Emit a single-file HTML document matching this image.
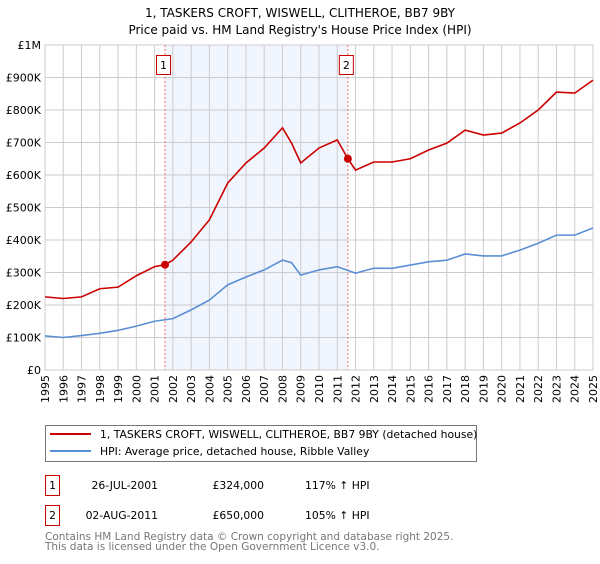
<!DOCTYPE html>
<html><head><meta charset="utf-8"><style>
body{margin:0;background:#fff;width:600px;height:560px;overflow:hidden;font-family:"DejaVu Sans","Liberation Sans",sans-serif}
</style></head><body>
<svg id="chart" width="600" height="560" xmlns="http://www.w3.org/2000/svg" font-family="DejaVu Sans, Liberation Sans, sans-serif">
<text x="300" y="17" text-anchor="middle" font-size="12" fill="#000">1, TASKERS CROFT, WISWELL, CLITHEROE, BB7 9BY</text>
<text x="300" y="34" text-anchor="middle" font-size="12" fill="#000">Price paid vs. HM Land Registry's House Price Index (HPI)</text>
<g id="plot"></g>
<g>
<rect x="45.5" y="425.5" width="431" height="36" fill="#fff" stroke="#777"/>
<line x1="50" y1="434" x2="91" y2="434" stroke="#cc0000" stroke-width="2"/>
<text x="100" y="438" font-size="10.8">1, TASKERS CROFT, WISWELL, CLITHEROE, BB7 9BY (detached house)</text>
<line x1="50" y1="451" x2="91" y2="451" stroke="#5b8fd4" stroke-width="2"/>
<text x="100" y="455" font-size="10.8">HPI: Average price, detached house, Ribble Valley</text>
</g>
<g font-size="10.8">
<rect x="45.5" y="475.5" width="14" height="20" fill="#fff" stroke="#cc0000"/>
<text x="52.5" y="489" text-anchor="middle">1</text>
<text x="158" y="489" text-anchor="end">26-JUL-2001</text>
<text x="264" y="489" text-anchor="end">£324,000</text>
<text x="305" y="489">117% ↑ HPI</text>
</g>
<g font-size="10.8">
<rect x="45.5" y="505.5" width="14" height="20" fill="#fff" stroke="#cc0000"/>
<text x="52.5" y="519" text-anchor="middle">2</text>
<text x="158" y="519" text-anchor="end">02-AUG-2011</text>
<text x="264" y="519" text-anchor="end">£650,000</text>
<text x="305" y="519">105% ↑ HPI</text>
</g>
<text x="45" y="540" font-size="10.5" fill="#777">Contains HM Land Registry data © Crown copyright and database right 2025.</text>
<text x="45" y="550" font-size="10.5" fill="#777">This data is licensed under the Open Government Licence v3.0.</text>
</svg>
<script>
const hpiYears=[1995,1996,1997,1998,1999,2000,2001,2002,2003,2004,2005,2006,2007,2008,2008.5,2009,2010,2011,2012,2013,2014,2015,2016,2017,2018,2019,2020,2021,2022,2023,2024,2025];
const hpiValues=[105,100,106,113,122,135,150,158,185,215,262,286,308,338,330,292,308,318,298,313,313,323,333,338,357,351,351,369,390,415,415,437];
const redYears=[1995,1996,1997,1998,1999,2000,2001,2001.57,2002,2003,2004,2005,2006,2007,2008,2008.5,2009,2010,2011,2011.58,2012,2013,2014,2015,2016,2017,2018,2019,2020,2021,2022,2023,2024,2025];
const redValues=[225,220,225,250,255,290,318,324,338,394,462,575,637,683,745,698,637,683,708,650,615,640,640,650,677,698,738,723,729,760,800,855,852,892];
const saleYears=[2001.57,2011.58];
const saleValues=[324,650];
const saleLabels=["1","2"];
const yTicks=[0,100,200,300,400,500,600,700,800,900,1000];
const yTickLabels=["£0","£100K","£200K","£300K","£400K","£500K","£600K","£700K","£800K","£900K","£1M"];
const xTicks=[1995,1996,1997,1998,1999,2000,2001,2002,2003,2004,2005,2006,2007,2008,2009,2010,2011,2012,2013,2014,2015,2016,2017,2018,2019,2020,2021,2022,2023,2024,2025];

const X0=45,X1=593,Y0=370,Y1=45;
const xs=y=>X0+(y-1995)/30*(X1-X0);
const ys=v=>Y0-v/1000*(Y0-Y1);
const NS="http://www.w3.org/2000/svg";
const g=document.getElementById('plot');
function mk(t,a){const e=document.createElementNS(NS,t);for(const k in a)e.setAttribute(k,a[k]);g.appendChild(e);return e;}

const shade=mk('rect',{x:xs(saleYears[0]),y:Y1,width:xs(saleYears[1])-xs(saleYears[0]),height:Y0-Y1,fill:'#f1f5fd'});



yTicks.forEach((t,i)=>{
  const l=mk('line',{x1:X0,x2:X1,y1:ys(t),y2:ys(t),stroke:'#ccc','stroke-width':1});
  
  
  const tx=mk('text',{x:X0-4,y:ys(t)+4,'text-anchor':'end','font-size':11,fill:'#000'});
  tx.textContent=yTickLabels[i];
  
  
});
xTicks.forEach(t=>{
  const l=mk('line',{x1:xs(t),x2:xs(t),y1:Y1,y2:Y0,stroke:'#ccc','stroke-width':1});
  
  
  const tx=mk('text',{transform:`translate(${xs(t)+4},${Y0+5}) rotate(-90)`,'text-anchor':'end','font-size':11,fill:'#000'});
  tx.textContent=t;
  
  
});
const border=mk('rect',{x:X0,y:Y1,width:X1-X0,height:Y0-Y1,fill:'none',stroke:'#ccc'});



saleYears.forEach((s,i)=>{
  const l=mk('line',{x1:xs(s),x2:xs(s),y1:Y1,y2:Y0,stroke:'#f07070','stroke-dasharray':'2,2'});
  
  
  const b=mk('rect',{x:xs(s)-8.5,y:55.5,width:14,height:19,fill:'#fff',stroke:'#cc0000'});
  
  
  const tx=mk('text',{x:xs(s)-1.5,y:69,'text-anchor':'middle','font-size':11});
  tx.textContent=saleLabels[i];
  
  
});

const hp=mk('polyline',{points:hpiYears.map((y,i)=>xs(y)+','+ys(hpiValues[i])).join(' '),fill:'none',stroke:'#5b8fd4','stroke-width':1.6});


const rp=mk('polyline',{points:redYears.map((y,i)=>xs(y)+','+ys(redValues[i])).join(' '),fill:'none',stroke:'#cc0000','stroke-width':1.6});


saleYears.forEach((s,i)=>{
  const c=mk('circle',{cx:xs(s),cy:ys(saleValues[i]),r:4,fill:'#cc0000'});
  
  
});
</script>
</body></html>
